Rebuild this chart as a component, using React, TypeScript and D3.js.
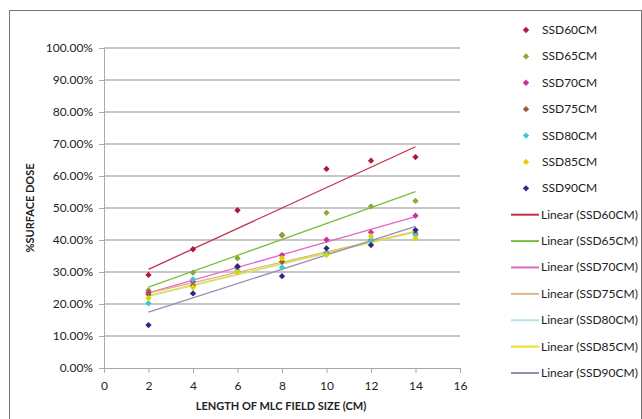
import React, {useRef, useEffect} from 'react';
import * as d3 from 'd3';

const fieldSizes = [2, 4, 6, 8, 10, 12, 14];
const seriesNames = ['SSD60CM', 'SSD65CM', 'SSD70CM', 'SSD75CM', 'SSD80CM', 'SSD85CM', 'SSD90CM'];
const ssd60 = [29.1, 37.1, 49.3, 41.5, 62.2, 64.8, 65.9];
const ssd65 = [24.3, 29.8, 34.3, 41.6, 48.5, 50.5, 52.2];
const ssd70 = [23.6, 27.0, 31.8, 35.3, 40.1, 42.4, 47.6];
const ssd75 = [23.0, 25.8, 31.5, 33.2, 36.0, 40.0, 42.0];
const ssd80 = [20.2, 27.7, 30.5, 31.4, 35.8, 40.0, 41.5];
const ssd85 = [21.8, 25.2, 30.0, 34.3, 35.3, 41.2, 40.5];
const ssd90 = [13.4, 23.3, 31.7, 28.7, 37.4, 38.4, 43.1];
const xTicks = [0, 2, 4, 6, 8, 10, 12, 14, 16];
const yTicks = [0, 10, 20, 30, 40, 50, 60, 70, 80, 90, 100];

const markerColours = ['#b3183c', '#8aa83c', '#cc2e9e', '#9c5a32', '#38c8d8', '#e6cf00', '#2e2a80'];
const lineColours = ['#c2304c', '#78c040', '#e466c4', '#d8b48c', '#b8e2ee', '#e8e020', '#9a8cb0'];

function App() {
  const canvas = useRef<HTMLDivElement>(null);

  const width = 642;
  const height = 419;
  const left = 104, right = 460, top = 48, bottom = 368;

  useEffect(() => {
    const root = d3.select(canvas.current);
    root.selectAll('*').remove();
    const svg = root.append('svg')
      .attr('width', width)
      .attr('height', height)
      .style('position', 'absolute')
      .style('left', 0)
      .style('top', 0)
      .style('font-family', 'Lato, "Noto Sans", sans-serif');

    svg.append('rect').attr('width', width).attr('height', height).attr('fill', '#fff');
    svg.append('rect')
      .attr('x', 9.5).attr('y', 10.5)
      .attr('width', width - 10).attr('height', height - 10)
      .attr('fill', 'none').attr('stroke', '#777');

    const x = d3.scaleLinear().domain([0, 16]).range([left, right]);
    const y = d3.scaleLinear().domain([0, 100]).range([bottom, top]);

    // gridlines
    svg.append('g').selectAll('line')
      .data(yTicks.filter(t => t > 0))
      .enter().append('line')
      .attr('x1', left).attr('x2', right)
      .attr('y1', d => y(d)).attr('y2', d => y(d))
      .attr('stroke', '#909090').attr('stroke-width', 1.2);

    const yAxis = svg.append('g')
      .attr('transform', `translate(${left},0)`)
      .call(d3.axisLeft(y).tickValues(yTicks).tickSize(5).tickPadding(6)
        .tickFormat(d => `${(+d).toFixed(2)}%`));
    const xAxis = svg.append('g')
      .attr('transform', `translate(0,${bottom})`)
      .call(d3.axisBottom(x).tickValues(xTicks).tickSize(5).tickPadding(8));
    [yAxis, xAxis].forEach(a => {
      a.select('.domain').attr('stroke', '#a8a8a8');
      a.selectAll('.tick line').attr('stroke', '#a8a8a8');
      a.selectAll('text').attr('font-size', 12).attr('fill', '#222').style('font-family', 'Lato, sans-serif');
    });

    svg.append('text')
      .attr('x', (left + right) / 2 - 1).attr('y', 410)
      .attr('text-anchor', 'middle')
      .attr('font-size', 11).attr('font-weight', 'bold').attr('fill', '#222')
      .text('LENGTH OF MLC FIELD SIZE (CM)');
    svg.append('text')
      .attr('transform', `translate(34,${(top + bottom) / 2}) rotate(-90)`)
      .attr('text-anchor', 'middle')
      .attr('font-size', 11).attr('font-weight', 'bold').attr('fill', '#222')
      .text('%SURFACE DOSE');

    const allSeries = [ssd60, ssd65, ssd70, ssd75, ssd80, ssd85, ssd90];

    // linear trendlines (least squares)
    const trend = (vals: number[]) => {
      const mx = d3.mean(fieldSizes)!;
      const my = d3.mean(vals)!;
      const sxy = d3.sum(fieldSizes, (fx, i) => (fx - mx) * (vals[i] - my));
      const sxx = d3.sum(fieldSizes, fx => (fx - mx) * (fx - mx));
      const slope = sxy / sxx;
      return [2, 14].map(fx => [fx, my + slope * (fx - mx)]);
    };
    const line = d3.line<number[]>().x(d => x(d[0])).y(d => y(d[1]));
    allSeries.forEach((vals, si) => {
      svg.append('path')
        .attr('d', line(trend(vals)))
        .attr('fill', 'none')
        .attr('stroke', lineColours[si])
        .attr('stroke-width', 1.3);
    });

    // excel style diamond: a square turned 45 degrees
    const diamond = d3.symbol().type(d3.symbolSquare).size(20);
    allSeries.forEach((vals, si) => {
      svg.append('g').selectAll('path')
        .data(vals)
        .enter().append('path')
        .attr('d', diamond)
        .attr('transform', (d, i) => `translate(${x(fieldSizes[i])},${y(d)}) rotate(45)`)
        .attr('fill', markerColours[si]);
    });

    // legend
    const legendY = d3.scaleLinear().domain([0, 13]).range([30, 373]);
    const legend = svg.append('g');
    seriesNames.forEach((name, i) => {
      const ly = legendY(i);
      legend.append('path')
        .attr('d', diamond)
        .attr('transform', `translate(526,${ly}) rotate(45)`)
        .attr('fill', markerColours[i]);
      legend.append('text')
        .attr('x', 542).attr('y', ly + 4)
        .attr('font-size', 12).attr('fill', '#222')
        .text(name);
    });
    seriesNames.forEach((name, i) => {
      const ly = legendY(i + 7);
      legend.append('line')
        .attr('x1', 511).attr('x2', 539)
        .attr('y1', ly).attr('y2', ly)
        .attr('stroke', lineColours[i]).attr('stroke-width', 2);
      legend.append('text')
        .attr('x', 541).attr('y', ly + 4)
        .attr('font-size', 12).attr('fill', '#222')
        .text(`Linear (${name})`);
    });
  });

  return <div className="d3-canvas" ref={canvas}></div>;
}

export default App;
